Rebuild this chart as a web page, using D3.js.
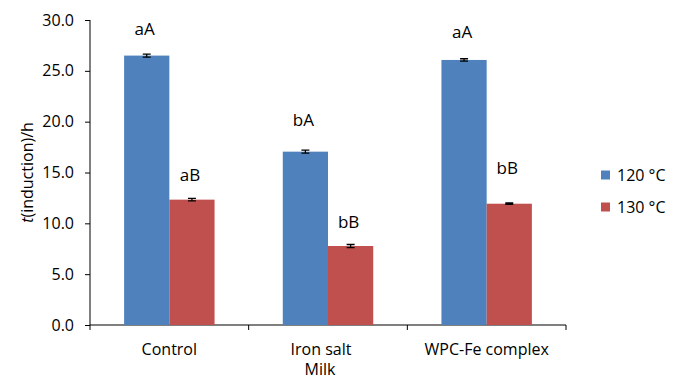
<!DOCTYPE html>
<html>
<head>
<meta charset="utf-8">
<script src="https://cdn.jsdelivr.net/npm/d3@7"></script>
<style>
  body { margin: 0; background: #fff; }
  text { font-family: "Open Sans", "Noto Sans", sans-serif; }
</style>
</head>
<body>
<svg id="chart" width="687" height="383"></svg>
<script>
// data
var categories = ["Control", "Iron salt", "WPC-Fe complex"];
var seriesNames = ["120 °C", "130 °C"];
var values120 = [26.5, 17.05, 26.07];
var values130 = [12.33, 7.77, 11.93];
var errors120 = [0.15, 0.15, 0.12];
var errors130 = [0.12, 0.15, 0.07];
var letters120 = ["aA", "bA", "aA"];
var letters130 = ["aB", "bB", "bB"];
// heights (in axis units) where the letter baselines sit
var letterAt120 = [28.5, 19.6, 28.2];
var letterAt130 = [14.15, 9.55, 14.85];
var yTicks = [0, 5, 10, 15, 20, 25, 30];
var colors = ["#4F81BD", "#C0504D"];

var svg = d3.select("#chart");
var plotLeft = 90, plotRight = 566, plotTop = 20, plotBottom = 325;

var x = d3.scaleBand().domain(categories).range([plotLeft, plotRight]).paddingInner(0.43).paddingOuter(0.215);
var x1 = d3.scaleBand().domain([0, 1]).range([0, x.bandwidth()]);
var y = d3.scaleLinear().domain([0, 30]).range([plotBottom, plotTop]);

// y axis
var yAxis = svg.append("g")
    .attr("transform", "translate(" + plotLeft + ",0)")
    .call(d3.axisLeft(y).tickValues(yTicks).tickSize(5).tickPadding(11).tickFormat(d3.format(".1f")));
yAxis.select(".domain").attr("d", "M0," + plotTop + "V" + (plotBottom + 5)).attr("stroke", "#000");
yAxis.selectAll(".tick line").attr("stroke", "#000");
yAxis.selectAll(".tick text").style("font-size", "16px").attr("fill", "#000");

// x axis: ticks between categories
var step = (plotRight - plotLeft) / categories.length;
svg.append("line")
    .attr("x1", plotLeft).attr("x2", plotRight)
    .attr("y1", plotBottom).attr("y2", plotBottom)
    .attr("stroke", "#000");
svg.selectAll(".xtick")
    .data(d3.range(1, categories.length + 1))
    .enter().append("line")
    .attr("x1", function (d) { return plotLeft + d * step; })
    .attr("x2", function (d) { return plotLeft + d * step; })
    .attr("y1", plotBottom).attr("y2", plotBottom + 5)
    .attr("stroke", "#000");

svg.selectAll(".xlabel")
    .data(categories)
    .enter().append("text")
    .attr("x", function (d, i) { return x(d) + x.bandwidth() / 2 - (i == 1 ? 7 : 0); })
    .attr("y", 355)
    .attr("text-anchor", "middle")
    .style("font-size", "16px")
    .text(function (d) { return d; });

svg.append("text")
    .attr("x", (plotLeft + plotRight) / 2 - 8)
    .attr("y", 375)
    .attr("text-anchor", "middle")
    .style("font-size", "16px")
    .text("Milk");

// y title
var yTitle = svg.append("text")
    .attr("text-anchor", "middle")
    .attr("transform", "translate(33," + ((plotTop + plotBottom) / 2) + ")rotate(-90)")
    .style("font-size", "16px");
yTitle.append("tspan").style("font-style", "italic").text("t");
yTitle.append("tspan").text("(induction)/h");

// bars
var series = [
    { values: values120, errors: errors120, letters: letters120, letterAt: letterAt120 },
    { values: values130, errors: errors130, letters: letters130, letterAt: letterAt130 }
];

series.forEach(function (s, k) {
    var rows = categories.map(function (c, i) {
        return { cat: c, v: s.values[i], e: s.errors[i], l: s.letters[i], la: s.letterAt[i] };
    });
    var g = svg.append("g");
    g.selectAll("rect")
        .data(rows)
        .enter().append("rect")
        .attr("x", function (d) { return x(d.cat) + x1(k); })
        .attr("y", function (d) { return y(d.v); })
        .attr("width", x1.bandwidth())
        .attr("height", function (d) { return y(0) - y(d.v); })
        .attr("fill", colors[k]);

    var cx = function (d) { return x(d.cat) + x1(k) + x1.bandwidth() / 2; };
    g.selectAll(".err")
        .data(rows)
        .enter().append("path")
        .attr("d", function (d) {
            var c = cx(d), y1 = y(d.v + d.e), y2 = y(d.v - d.e);
            return "M" + (c - 4) + "," + y1 + "H" + (c + 4) +
                "M" + c + "," + y1 + "V" + y2 +
                "M" + (c - 4) + "," + y2 + "H" + (c + 4);
        })
        .attr("stroke", "#000")
        .attr("stroke-width", 1.3)
        .attr("fill", "none");

    g.selectAll(".letter")
        .data(rows)
        .enter().append("text")
        .attr("x", function (d) { return cx(d) - 2; })
        .attr("y", function (d) { return y(d.la); })
        .attr("text-anchor", "middle")
        .style("font-size", "17px")
        .text(function (d) { return d.l; });
});

// legend
var legend = svg.append("g").attr("transform", "translate(601,0)");
seriesNames.forEach(function (name, k) {
    var ly = 175 + k * 32;
    legend.append("rect")
        .attr("x", 0).attr("y", ly - 4.5)
        .attr("width", 9).attr("height", 9)
        .attr("fill", colors[k]);
    legend.append("text")
        .attr("x", 16).attr("y", ly)
        .attr("dy", "0.35em")
        .style("font-size", "16px")
        .text(name);
});
</script>
</body>
</html>
